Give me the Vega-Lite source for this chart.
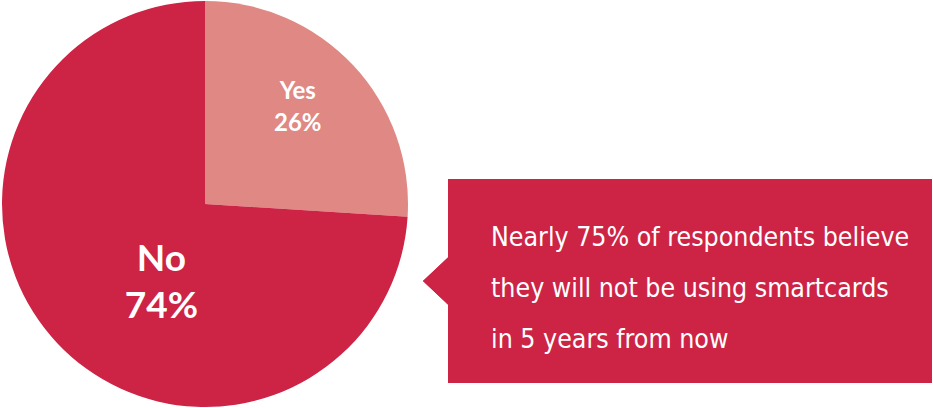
{
  "$schema": "https://vega.github.io/schema/vega-lite/v6.json",
  "padding": 0,
  "background": "white",
  "config": {"view": {"stroke": null}, "concat": {"spacing": 13}},
  "hconcat": [
    {
      "width": 410,
      "height": 408,
      "data": {"values": [
        {"answer": "Yes", "percent": 26, "label": "Yes\n26%"},
        {"answer": "No", "percent": 74, "label": "No\n74%"}
      ]},
      "encoding": {
        "theta": {"field": "percent", "type": "quantitative", "stack": true},
        "order": {"field": "answer", "type": "ordinal", "sort": "descending"}
      },
      "layer": [
        {
          "mark": {"type": "arc", "outerRadius": 203},
          "encoding": {
            "color": {"field": "answer", "type": "nominal", "scale": {"domain": ["Yes", "No"], "range": ["#E08884", "#CD2345"]}, "legend": null}
          }
        },
        {
          "mark": {"type": "text", "radius": 130, "font": "Lato", "fontWeight": "bold", "fontSize": 24, "lineHeight": 32, "lineBreak": "\n", "color": "white", "align": "center", "baseline": "middle", "dx": -2, "dy": -23},
          "encoding": {
            "text": {"condition": {"test": "datum.answer === 'Yes'", "field": "label"}, "value": ""}
          }
        },
        {
          "mark": {"type": "text", "radius": 90, "font": "Lato", "fontWeight": "bold", "fontSize": 37, "lineHeight": 47, "lineBreak": "\n", "color": "white", "align": "center", "baseline": "middle", "dx": 22, "dy": -6},
          "encoding": {
            "text": {"condition": {"test": "datum.answer === 'No'", "field": "label"}, "value": ""}
          }
        }
      ]
    },
    {
      "spacing": 0,
      "vconcat": [
        {
          "width": 484,
          "height": 179,
          "data": {"values": []},
          "mark": {"type": "point", "opacity": 0},
          "encoding": {}
        },
        {
          "width": 484,
          "height": 204,
          "view": {"fill": "#CD2345"},
          "data": {"values": [
            {"line": 1, "text": "Nearly 75% of respondents believe"},
            {"line": 2, "text": "they will not be using smartcards"},
            {"line": 3, "text": "in 5 years from now"}
          ]},
          "layer": [
            {
              "mark": {"type": "point", "shape": "M 0 -1 L -1.06 0 L 0 1 Z", "size": 2209, "filled": true, "opacity": 1, "color": "#CD2345", "strokeWidth": 0, "dy": -4},
              "encoding": {
                "x": {"datum": 0, "type": "quantitative", "scale": {"domain": [0, 1]}, "axis": null},
                "y": {"datum": 2, "type": "ordinal", "scale": {"type": "point", "domain": [1, 2, 3], "padding": 1.147}, "axis": null}
              }
            },
            {
              "mark": {"type": "text", "font": "DejaVu Sans Condensed", "fontSize": 26.5, "color": "white", "align": "left", "baseline": "alphabetic", "dx": 43, "dy": 15.5},
              "encoding": {
                "x": {"datum": 0, "type": "quantitative", "scale": {"domain": [0, 1]}, "axis": null},
                "y": {"field": "line", "type": "ordinal", "axis": null},
                "text": {"field": "text"}
              }
            }
          ]
        }
      ]
    }
  ]
}
